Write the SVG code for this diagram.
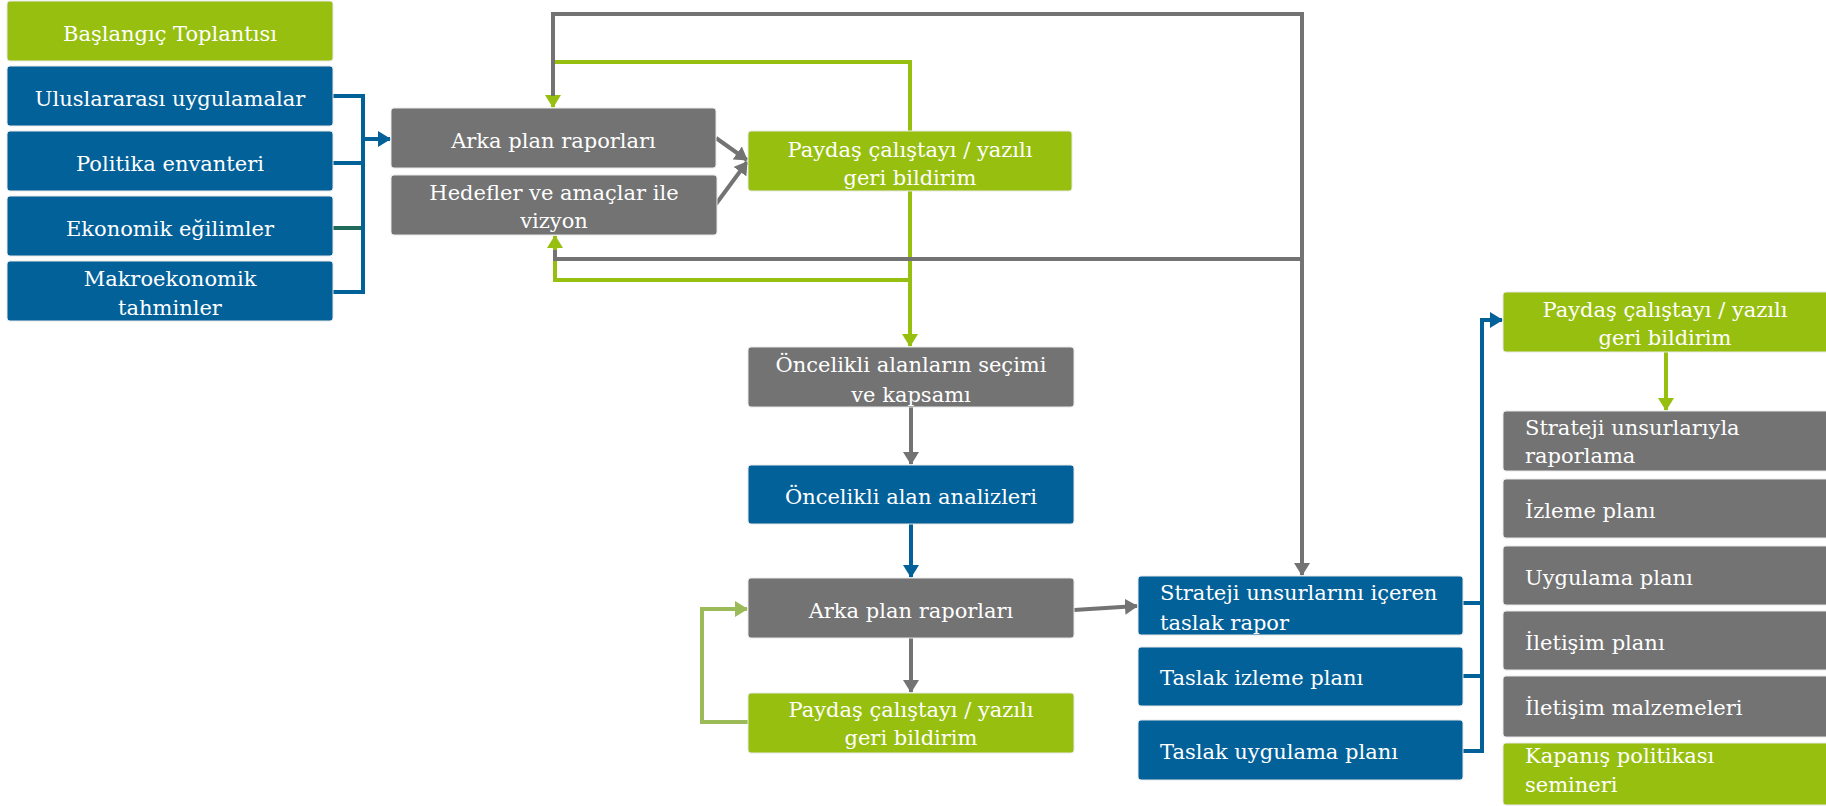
<svg xmlns="http://www.w3.org/2000/svg" width="1826" height="806" viewBox="0 0 1826 806">
<style>
.bx{stroke:#e8e8e8;stroke-width:1}
.gn{fill:#97bf0f}
.bl{fill:#03619a}
.gy{fill:#737373}
text{font-family:"DejaVu Serif","Liberation Serif",serif;font-size:21px;fill:#ffffff}
.c{text-anchor:middle}
.ln{fill:none;stroke-width:4}
.lg{stroke:#737373}
.lgr{stroke:#97bf0f}
.lb{stroke:#03619a}
.llg{stroke:#9bbb59}
.lt{stroke:#1f6a5a}
</style>
<defs>
<marker id="ag" markerUnits="userSpaceOnUse" markerWidth="16" markerHeight="16" refX="12" refY="8" orient="auto"><path d="M0,0 L13,8 L0,16 z" fill="#737373"/></marker>
<marker id="agr" markerUnits="userSpaceOnUse" markerWidth="16" markerHeight="16" refX="12" refY="8" orient="auto"><path d="M0,0 L13,8 L0,16 z" fill="#97bf0f"/></marker>
<marker id="ab" markerUnits="userSpaceOnUse" markerWidth="16" markerHeight="16" refX="12" refY="8" orient="auto"><path d="M0,0 L13,8 L0,16 z" fill="#03619a"/></marker>
<marker id="alg" markerUnits="userSpaceOnUse" markerWidth="16" markerHeight="16" refX="12" refY="8" orient="auto"><path d="M0,0 L13,8 L0,16 z" fill="#9bbb59"/></marker>
</defs>

<g id="connectors">
<!-- left bracket -->
<path class="ln lb" d="M333,96 H363 V292 H333"/>
<path class="ln lb" d="M333,163 H363"/>
<path class="ln lt" d="M333,228 H361"/>
<path class="ln lb" d="M363,139 H390" marker-end="url(#ab)"/>
<!-- green loops top -->
<path class="ln lgr" d="M910,160 V62 H553 V107" marker-end="url(#agr)"/>
<path class="ln lgr" d="M910,191 V280 H555 V236" marker-end="url(#agr)"/>
<path class="ln lgr" d="M910,270 V346" marker-end="url(#agr)"/>
<!-- gray loops -->
<path class="ln lg" d="M553,96 V14 H1302 V575" marker-end="url(#ag)"/>
<path class="ln lg" d="M555,250 V259 H1302"/>
<!-- to paydas 1 -->
<path class="ln lg" d="M716,138 L747,160" marker-end="url(#ag)"/>
<path class="ln lg" d="M716,204 L747,162" marker-end="url(#ag)"/>
<!-- middle column -->
<path class="ln lg" d="M911,407 V464" marker-end="url(#ag)"/>
<path class="ln lb" d="M911,524 V577" marker-end="url(#ab)"/>
<path class="ln lg" d="M911,638 V692" marker-end="url(#ag)"/>
<path class="ln llg" d="M748,722 H702 V609 H747" marker-end="url(#alg)"/>
<path class="ln lg" d="M1074,610 L1137,606" marker-end="url(#ag)"/>
<!-- right bracket -->
<path class="ln lb" d="M1463,603 H1482"/>
<path class="ln lb" d="M1463,676 H1482"/>
<path class="ln lb" d="M1463,751 H1482 V320 H1502" marker-end="url(#ab)"/>
<path class="ln lgr" d="M1666,352 V410" marker-end="url(#agr)"/>
</g>

<g id="n1"><rect class="bx gn" x="7" y="1" width="326" height="60" rx="3"/><text class="c" x="170" y="41">Başlangıç Toplantısı</text></g>
<g id="n2"><rect class="bx bl" x="7" y="66" width="326" height="60" rx="3"/><text class="c" x="170" y="106">Uluslararası uygulamalar</text></g>
<g id="n3"><rect class="bx bl" x="7" y="131" width="326" height="60" rx="3"/><text class="c" x="170" y="171">Politika envanteri</text></g>
<g id="n4"><rect class="bx bl" x="7" y="196" width="326" height="60" rx="3"/><text class="c" x="170" y="236">Ekonomik eğilimler</text></g>
<g id="n5"><rect class="bx bl" x="7" y="261" width="326" height="60" rx="3"/><text class="c" x="170" y="286">Makroekonomik</text><text class="c" x="170" y="315">tahminler</text></g>

<g id="n6"><rect class="bx gy" x="391" y="108" width="325" height="60" rx="3"/><text class="c" x="553.5" y="148">Arka plan raporları</text></g>
<g id="n7"><rect class="bx gy" x="391" y="175" width="326" height="60" rx="3"/><text class="c" x="554" y="200">Hedefler ve amaçlar ile</text><text class="c" x="554" y="228">vizyon</text></g>
<g id="n8"><rect class="bx gn" x="748" y="131" width="324" height="60" rx="3"/><text class="c" x="910" y="157">Paydaş çalıştayı / yazılı</text><text class="c" x="910" y="185">geri bildirim</text></g>

<g id="n9"><rect class="bx gy" x="748" y="347" width="326" height="60" rx="3"/><text class="c" x="911" y="372">Öncelikli alanların seçimi</text><text class="c" x="911" y="402">ve kapsamı</text></g>
<g id="n10"><rect class="bx bl" x="748" y="465" width="326" height="59" rx="3"/><text class="c" x="911" y="504">Öncelikli alan analizleri</text></g>
<g id="n11"><rect class="bx gy" x="748" y="578" width="326" height="60" rx="3"/><text class="c" x="911" y="618">Arka plan raporları</text></g>
<g id="n12"><rect class="bx gn" x="748" y="693" width="326" height="60" rx="3"/><text class="c" x="911" y="717">Paydaş çalıştayı / yazılı</text><text class="c" x="911" y="745">geri bildirim</text></g>

<g id="n13"><rect class="bx bl" x="1138" y="576" width="325" height="59" rx="3"/><text x="1160" y="600">Strateji unsurlarını içeren</text><text x="1160" y="630">taslak rapor</text></g>
<g id="n14"><rect class="bx bl" x="1138" y="647" width="325" height="59" rx="3"/><text x="1160" y="685">Taslak izleme planı</text></g>
<g id="n15"><rect class="bx bl" x="1138" y="720" width="325" height="60" rx="3"/><text x="1160" y="759">Taslak uygulama planı</text></g>

<g id="n16"><rect class="bx gn" x="1503" y="292" width="330" height="60" rx="3"/><text class="c" x="1665" y="317">Paydaş çalıştayı / yazılı</text><text class="c" x="1665" y="345">geri bildirim</text></g>
<g id="n17"><rect class="bx gy" x="1503" y="411" width="330" height="60" rx="3"/><text x="1525" y="435">Strateji unsurlarıyla</text><text x="1525" y="463">raporlama</text></g>
<g id="n18"><rect class="bx gy" x="1503" y="479" width="330" height="59" rx="3"/><text x="1525" y="518">İzleme planı</text></g>
<g id="n19"><rect class="bx gy" x="1503" y="546" width="330" height="59" rx="3"/><text x="1525" y="585">Uygulama planı</text></g>
<g id="n20"><rect class="bx gy" x="1503" y="611" width="330" height="59" rx="3"/><text x="1525" y="650">İletişim planı</text></g>
<g id="n21"><rect class="bx gy" x="1503" y="676" width="330" height="61" rx="3"/><text x="1525" y="715">İletişim malzemeleri</text></g>
<g id="n22"><rect class="bx gn" x="1503" y="743" width="330" height="62" rx="3"/><text x="1525" y="763">Kapanış politikası</text><text x="1525" y="792">semineri</text></g>
</svg>
